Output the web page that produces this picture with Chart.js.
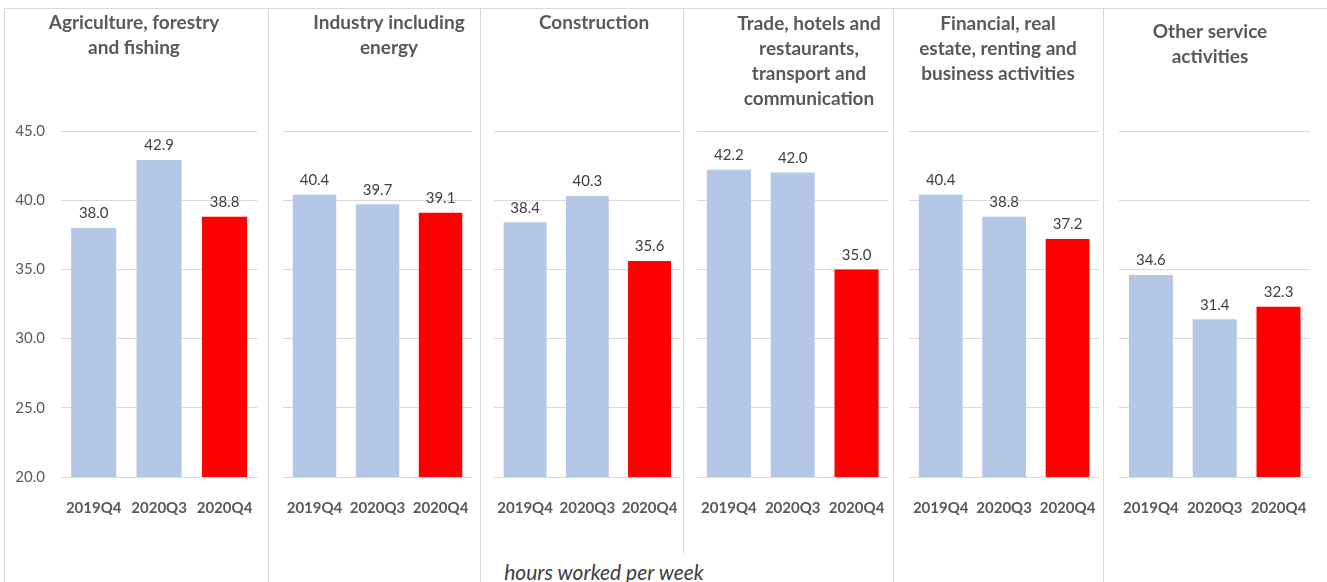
<!DOCTYPE html>
<html>
<head>
<meta charset="utf-8">
<script src="https://cdn.jsdelivr.net/npm/chart.js@4.4.1/dist/chart.umd.min.js"></script>
<style>
  html, body { margin: 0; padding: 0; background: #fff; }
  #wrap { position: relative; width: 1327px; height: 582px; overflow: hidden; font-family: Lato, "Open Sans", sans-serif; }
  #wrap canvas { position: absolute; top: 0; }
  .rule { position: absolute; background: #d9d9d9; }
  #unit { position: absolute; top: 559px; left: 0; width: 1208px; text-align: center; font-style: italic; font-size: 21px; color: #404040; }
</style>
</head>
<body>
<div id="wrap">
  <div class="rule" style="left:4px;top:8px;width:1323px;height:1px"></div>
  <div class="rule" style="left:4px;top:8px;width:1px;height:574px"></div>
  <div class="rule" style="left:268px;top:8px;width:1px;height:574px"></div>
  <div class="rule" style="left:480px;top:8px;width:1px;height:574px"></div>
  <div class="rule" style="left:683px;top:8px;width:1px;height:545px"></div>
  <div class="rule" style="left:893px;top:8px;width:1px;height:574px"></div>
  <div class="rule" style="left:1103px;top:8px;width:1px;height:574px"></div>
  <div id="unit">hours worked per week</div>
</div>
<script>
// categories and values (hours worked per week)
const quarters = ['2019Q4', '2020Q3', '2020Q4'];
const agriculture = [38.0, 42.9, 38.8];
const industry = [40.4, 39.7, 39.1];
const construction = [38.4, 40.3, 35.6];
const tradeTransport = [42.2, 42.0, 35.0];
const financial = [40.4, 38.8, 37.2];
const otherServices = [34.6, 31.4, 32.3];
const yTickLabels = ['20.0', '25.0', '30.0', '35.0', '40.0', '45.0'];

const sectorTitles = [
  ['Agriculture, forestry', 'and fishing'],
  ['Industry including', 'energy'],
  ['Construction'],
  ['Trade, hotels and', 'restaurants,', 'transport and', 'communication'],
  ['Financial, real', 'estate, renting and', 'business activities'],
  ['Other service', 'activities']
];
const sectorValues = [agriculture, industry, construction, tradeTransport, financial, otherServices];

const BLUE = '#b4c7e7';
const RED = '#ff0000';
const TEXT = '#595959';
const GRID = '#d9d9d9';
const FONT = 'Lato, "Open Sans", sans-serif';

// panel layout: plot area left/right, title centre and first title line
const panels = [
  { left: 61, right: 258, titleX: 134, titleY: 23 },
  { left: 283, right: 474, titleX: 389, titleY: 23 },
  { left: 494, right: 683, titleX: 594, titleY: 23 },
  { left: 697, right: 890, titleX: 809, titleY: 24 },
  { left: 909, right: 1101, titleX: 998, titleY: 24 },
  { left: 1119, right: 1312, titleX: 1210, titleY: 32 }
];

const AXIS_W = 60;
const PLOT_TOP = 131;
const PLOT_BOTTOM = 477;
const H = 582;

const valueLabels = {
  id: 'valueLabels',
  afterDatasetsDraw(chart) {
    const ctx = chart.ctx;
    const meta = chart.getDatasetMeta(0);
    const data = chart.data.datasets[0].data;
    ctx.save();
    ctx.font = '15px ' + FONT;
    ctx.fillStyle = '#404040';
    ctx.textAlign = 'center';
    ctx.textBaseline = 'bottom';
    meta.data.forEach((bar, i) => {
      ctx.fillText(data[i].toFixed(1), bar.x, bar.y - 7);
    });
    ctx.restore();
  }
};

const panelTitle = {
  id: 'panelTitle',
  afterDraw(chart, args, opts) {
    const ctx = chart.ctx;
    ctx.save();
    ctx.font = 'bold 19px ' + FONT;
    ctx.fillStyle = TEXT;
    ctx.textAlign = 'center';
    ctx.textBaseline = 'middle';
    opts.lines.forEach((line, i) => {
      ctx.fillText(line, opts.x, opts.y + i * 25);
    });
    ctx.restore();
  }
};

const wrap = document.getElementById('wrap');

panels.forEach((p, idx) => {
  const canvas = document.createElement('canvas');
  const left = p.left - AXIS_W;
  const width = p.right - p.left + AXIS_W + 10;
  canvas.width = width;
  canvas.height = H;
  canvas.style.left = left + 'px';
  canvas.style.width = width + 'px';
  canvas.style.height = H + 'px';
  wrap.appendChild(canvas);

  const values = sectorValues[idx];

  new Chart(canvas.getContext('2d'), {
    type: 'bar',
    data: {
      labels: quarters,
      datasets: [{
        data: values,
        backgroundColor: values.map((v, i) => i === values.length - 1 ? RED : BLUE),
        categoryPercentage: 1,
        barPercentage: 0.69,
        borderWidth: 0
      }]
    },
    options: {
      responsive: false,
      animation: false,
      devicePixelRatio: 1,
      layout: { padding: { top: PLOT_TOP, right: 10, bottom: 0, left: 0 } },
      plugins: {
        legend: { display: false },
        tooltip: { enabled: false },
        title: { display: false },
        panelTitle: { lines: sectorTitles[idx], x: p.titleX - left, y: p.titleY }
      },
      scales: {
        x: {
          grid: { display: false },
          border: { display: false },
          ticks: {
            color: TEXT,
            padding: 14,
            maxRotation: 0,
            autoSkip: false,
            font: { family: FONT, size: 15, weight: 'bold' }
          },
          afterFit(scale) { scale.height = H - PLOT_BOTTOM; }
        },
        y: {
          min: 20,
          max: 45,
          grid: { color: GRID, lineWidth: 1, drawTicks: false },
          border: { display: false },
          ticks: {
            display: idx === 0,
            stepSize: 5,
            padding: 16,
            color: TEXT,
            font: { family: FONT, size: 15 },
            callback: (v) => yTickLabels[(v - 20) / 5]
          },
          afterFit(scale) { scale.width = AXIS_W; }
        }
      }
    },
    plugins: [valueLabels, panelTitle]
  });
});
</script>
</body>
</html>
